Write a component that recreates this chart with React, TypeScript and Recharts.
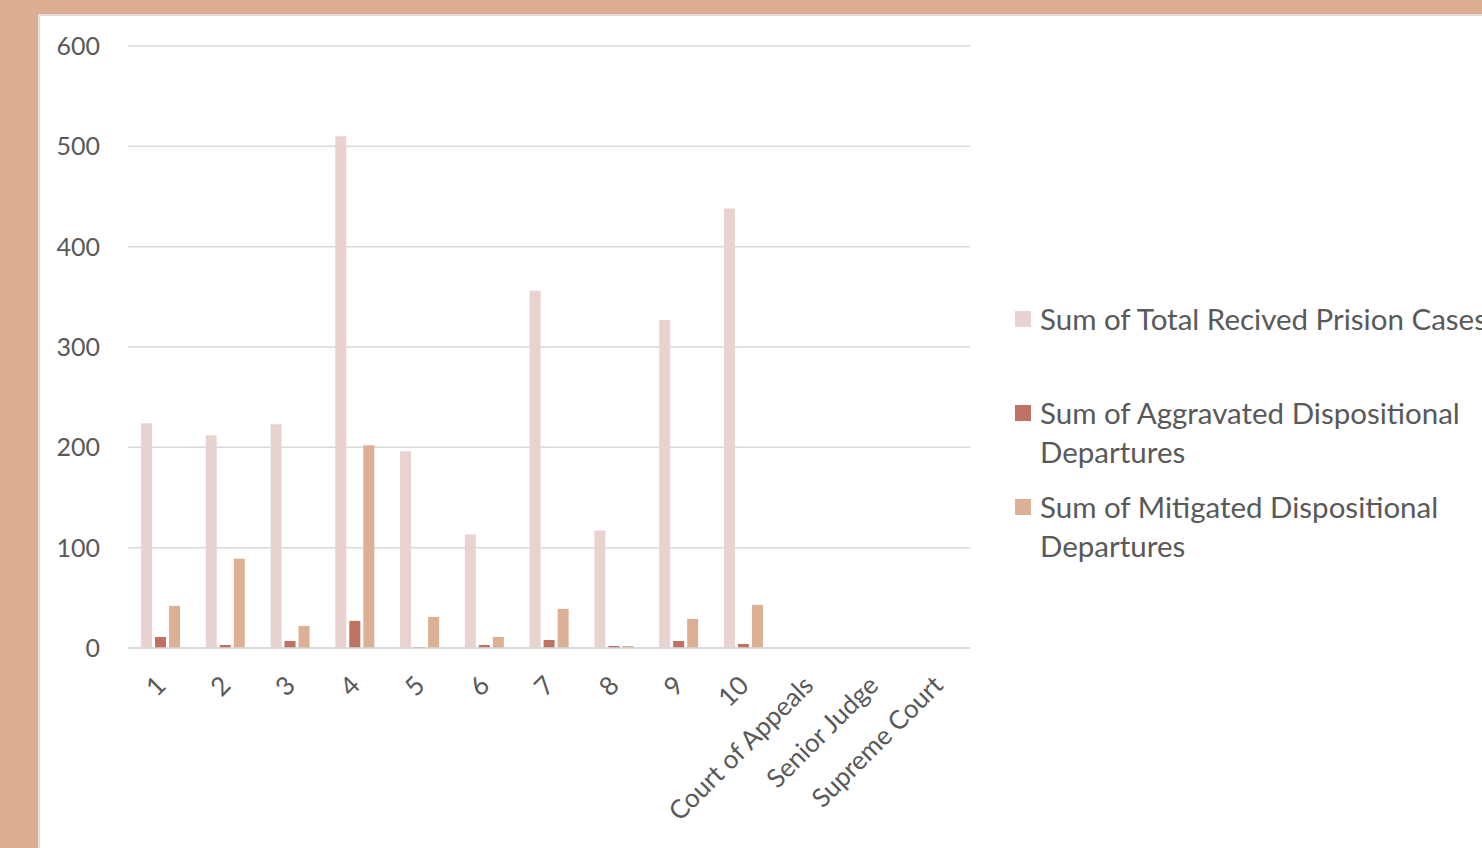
import { Bar, BarChart, CartesianGrid, Legend, XAxis, YAxis } from "recharts";

const categories = ["1", "2", "3", "4", "5", "6", "7", "8", "9", "10", "Court of Appeals", "Senior Judge", "Supreme Court"];
const totalCases = [224, 212, 223, 510, 196, 113, 356, 117, 327, 438, null, null, null];
const aggravated = [11, 3, 7, 27, 1, 3, 8, 2, 7, 4, null, null, null];
const mitigated = [42, 89, 22, 202, 31, 11, 39, 2, 29, 43, null, null, null];
const yTicks = [0, 100, 200, 300, 400, 500, 600];

const FONT = "Lato, 'Open Sans', sans-serif";
const TEXT = "#595959";

const SERIES = [
  { key: "total", name: "Sum of Total Recived Prision Cases", color: "#e8d3d1" },
  { key: "aggravated", name: "Sum of Aggravated Dispositional Departures", color: "#bf7261" },
  { key: "mitigated", name: "Sum of Mitigated Dispositional Departures", color: "#dcb094" },
];

const data = categories.map((name, i) => ({
  name,
  total: totalCases[i],
  aggravated: aggravated[i],
  mitigated: mitigated[i],
}));

function XTick({ x, y, payload }: any) {
  const ax = x + 7;
  const ay = y + 39;
  return (
    <text
      x={ax}
      y={ay}
      textAnchor="end"
      transform={`rotate(-45, ${ax}, ${ay})`}
      fill={TEXT}
      fontSize={26}
      fontFamily={FONT}
    >
      {payload.value}
    </text>
  );
}

// keep the series order from the original chart rather than recharts' sorted payload
function LegendContent() {
  return (
    <div style={{ fontFamily: FONT, fontSize: 29.5, color: TEXT, lineHeight: "39px" }}>
      {SERIES.map((s) => (
        <div key={s.key} style={{ display: "flex", minHeight: 78, marginBottom: 16 }}>
          <div style={{ width: 16, height: 16, background: s.color, marginTop: 12, marginRight: 9, flex: "none" }} />
          <div style={{ width: 470 }}>{s.name}</div>
        </div>
      ))}
    </div>
  );
}

export default function App() {
  return (
    <div
      style={{
        position: "fixed",
        left: 0,
        top: 0,
        width: 1482,
        height: 848,
        background: "#dcaf94",
        overflow: "hidden",
      }}
    >
      <div
        style={{
          position: "absolute",
          left: 38,
          top: 14,
          width: 1460,
          height: 850,
          background: "#fff",
          border: "2px solid #e4dcd8",
        }}
      >
        <BarChart
          width={1442}
          height={832}
          data={data}
          margin={{ top: 30, right: 512, bottom: 0, left: 0 }}
          barSize={11}
          barGap={3}
        >
          <CartesianGrid vertical={false} stroke="#d9d9d9" strokeWidth={1.5} />
          <XAxis
            dataKey="name"
            interval={0}
            height={200}
            tickLine={false}
            tickSize={0}
            tickMargin={0}
            axisLine={{ stroke: "#d9d9d9", strokeWidth: 1.5 }}
            tick={<XTick />}
          />
          <YAxis
            width={88}
            domain={[0, 600]}
            ticks={yTicks}
            axisLine={false}
            tickLine={false}
            tickSize={0}
            tickMargin={28}
            tick={{ fill: TEXT, fontSize: 25, fontFamily: FONT }}
          />
          <Legend
            layout="vertical"
            align="center"
            verticalAlign="middle"
            wrapperStyle={{ left: 975, top: 283, width: 500 }}
            content={<LegendContent />}
          />
          {SERIES.map((s) => (
            <Bar key={s.key} dataKey={s.key} name={s.name} fill={s.color} isAnimationActive={false} />
          ))}
        </BarChart>
      </div>
    </div>
  );
}
